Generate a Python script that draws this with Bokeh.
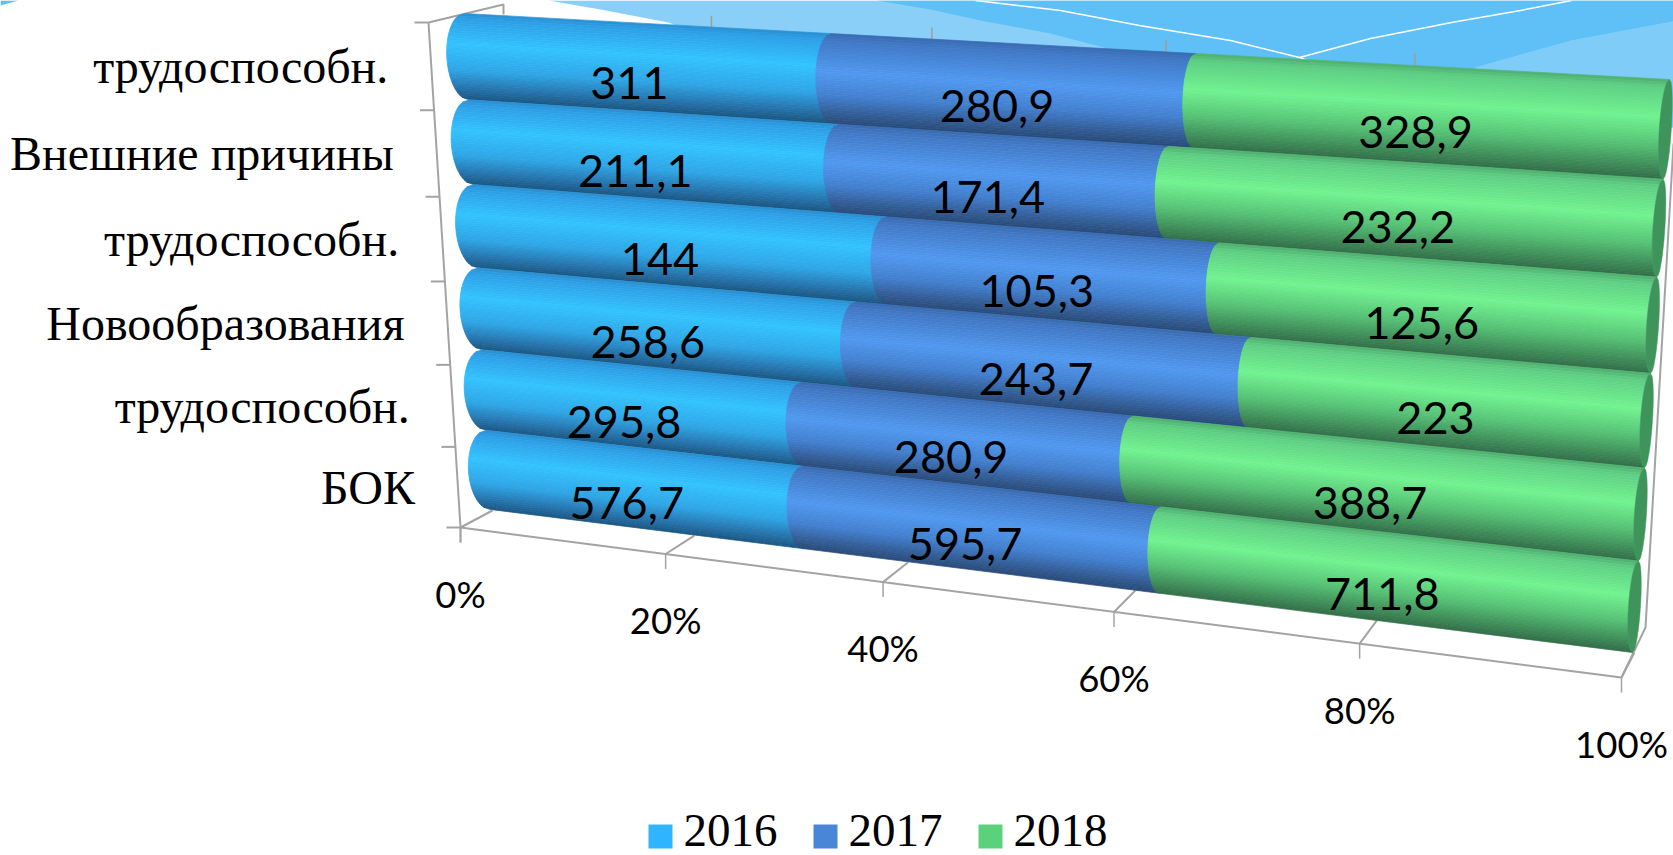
from bokeh.plotting import figure
from bokeh.models import Range1d
from bokeh.core.properties import value
from bokeh.embed import file_html
from bokeh.resources import INLINE

categories = ["трудоспособн.", "Внешние причины", "трудоспособн.",
              "Новообразования", "трудоспособн.", "БОК"]
years = ["2016", "2017", "2018"]
v2016 = [311, 211.1, 144, 258.6, 295.8, 576.7]
v2017 = [280.9, 171.4, 105.3, 243.7, 280.9, 595.7]
v2018 = [328.9, 232.2, 125.6, 223, 388.7, 711.8]
pct_ticks = [0, 20, 40, 60, 80, 100]

W, H = 1673, 855
p = figure(width=W, height=H, x_range=Range1d(0, W), y_range=Range1d(H, 0),
           output_backend="svg", toolbar_location=None, min_border=0)
p.axis.visible = False
p.grid.visible = False
p.outline_line_color = None
p.background_fill_color = "white"
p.border_fill_color = "white"

# ---- pseudo-3D projection: percent along the bars, category across them
R_U, R_V = 1.165, 0.95
N = len(categories)

def su(u):
    return u / (u + (1 - u) * R_U)

def sv(v):
    f = v / N
    return f / (f + (1 - f) * R_V)

BAR = ((464, 13), (1669, 79), (490, 509), (1632, 652))

def bar_pt(u, v):
    a, b = su(u), sv(v)
    (x0, y0), (x1, y1), (x2, y2), (x3, y3) = BAR
    tx, ty = x0 + (x1 - x0) * a, y0 + (y1 - y0) * a
    bx, by = x2 + (x3 - x2) * a, y2 + (y3 - y2) * a
    return tx + (bx - tx) * b, ty + (by - ty) * b

def bulge(u):
    return 20 - 13 * su(u)

def arc_pt(u, row, t):
    x, y = bar_pt(u, row + t)
    return x - bulge(u) * (max(0.0, 1 - (2 * t - 1) ** 2)) ** 0.5, y

def lerp(a, b, f):
    return a + (b - a) * f

def seg(pa, pb, f):
    return lerp(pa[0], pb[0], f), lerp(pa[1], pb[1], f)

# ---- template background behind the chart
p.patch([0, 18, 0], [0, 0, 5], color="#5EC0F7", line_width=0)
p.patch([548, 600, 668, 760, 1673, 1673], [0, 9, 22, 60, 127, 0], color="#8ACFF8", line_width=0)
p.patch([876, 930, 980, 1050, 1107, 1180, 1400, 1475, 1571, 1673, 1673],
        [0, 9, 20, 33, 48, 90, 110, 67, 40, 21, 0], color="#5EC0F7", line_width=0)
p.patch([1400, 1475, 1571, 1673, 1673], [110, 67, 40, 21, 127], color="#7FCCF8", line_width=0)
p.line([975, 1060, 1139, 1230, 1299, 1312], [0, 10, 25, 40, 57, 62], line_color="white", line_width=1.5)
p.line([1299, 1370, 1451, 1520, 1571], [57, 38, 22, 10, 0], line_color="white", line_width=1.5)

# ---- chart box lines
GREY = "#A3A3A3"
F0, F1, B0, B1 = (460, 527), (1621, 677), (492, 510), (1634, 652)
T0, T1 = (503, 4), (1680, 67)
p.line([F0[0], F1[0]], [F0[1], F1[1]], line_color=GREY, line_width=2)
p.line([428, 503, 503], [22, 4, 14], line_color=GREY, line_width=2)
p.line([428, 460, 460], [22, 527, 542], line_color=GREY, line_width=2)
p.line([F1[0], 1645, 1673], [F1[1], 627, 143], line_color=GREY, line_width=2)
for t in pct_ticks:
    u = t / 100
    a = seg(F0, F1, su(u))
    b = seg(B0, B1, su(u))
    p.line([a[0], b[0]], [a[1], b[1]], line_color=GREY, line_width=2)
    p.line([a[0], a[0]], [a[1], a[1] + 15], line_color=GREY, line_width=1.5)
    c = seg(T0, T1, su(u))
    if 0 < t < 100:
        p.line([c[0], c[0]], [c[1], c[1] + 12], line_color="#A89A90", line_width=1.5)
    p.text([a[0]], [a[1] + 66], text=[f"{t}%"], text_font=value("Lato"),
           text_font_size="36.5px", text_align="center", text_baseline="middle",
           text_color="black")
for i in range(N + 1):
    f = sv(i)
    y = lerp(22, 527, f)
    x = lerp(428, 460, f)
    p.line([x - 14, x], [y, y], line_color=GREY, line_width=2)

# ---- cylinder shading stops (t across the bar, colour)
shade = [
    [(0, "#2A8FD0"), (.06, "#2E9FE6"), (.35, "#33C3FF"), (.65, "#2FA6E6"), (.88, "#256FA6"), (1, "#1A5580")],
    [(0, "#3A6CB0"), (.08, "#4279C6"), (.42, "#5199F0"), (.68, "#4380CF"), (.9, "#31598F"), (1, "#284A78")],
    [(0, "#4FAE70"), (.08, "#5FCF84"), (.38, "#72F390"), (.66, "#56C276"), (.9, "#3C8656"), (1, "#336E48")],
]

def rgb(h):
    return tuple(int(h[i:i + 2], 16) for i in (1, 3, 5))

def color_at(stops, t):
    for (t0, c0), (t1, c1) in zip(stops, stops[1:]):
        if t <= t1:
            f = (t - t0) / (t1 - t0)
            r = [round(lerp(a, b, f)) for a, b in zip(rgb(c0), rgb(c1))]
            return "#%02X%02X%02X" % tuple(r)
    return stops[-1][1]

STRIPS = 36
series = [v2016, v2017, v2018]
lab_x, lab_y, lab_t = [], [], []
for row in range(N):
    total = v2016[row] + v2017[row] + v2018[row]
    start = 0.0
    xs, ys, cols = [], [], []
    for s, vals in enumerate(series):
        end = start + vals[row] / total
        for j in range(STRIPS):
            t0, t1 = j / STRIPS, (j + 1) / STRIPS
            a0 = arc_pt(start, row, t0)
            a1 = arc_pt(start, row, t1)
            b0 = arc_pt(end, row, t0)
            b1 = arc_pt(end, row, t1)
            xs.append([a0[0], b0[0], b1[0], a1[0]])
            ys.append([a0[1], b0[1], b1[1], a1[1]])
            cols.append(color_at(shade[s], (t0 + t1) / 2))
        um = (start + end) / 2
        lx, ly = bar_pt(um, row + 0.68)
        lab_x.append(lx - bulge(um) + 2)
        lab_y.append(ly)
        lab_t.append(str(vals[row]).replace(".", ","))
        start = end
    p.patches(xs, ys, fill_color=cols, line_color=cols, line_width=0.7)
    # end face of the last cylinder
    cx, cy = [], []
    for j in range(STRIPS + 1):
        t = j / STRIPS
        x, y = bar_pt(1.0, row + t)
        cx.append(x + 5 * (max(0.0, 1 - (2 * t - 1) ** 2)) ** 0.5)
        cy.append(y)
    for j in range(STRIPS, -1, -1):
        t = j / STRIPS
        x, y = arc_pt(1.0, row, t)
        cx.append(x)
        cy.append(y)
    p.patch(cx, cy, fill_color="#3F945B", line_color="#3F945B", line_width=0.5)

p.text(lab_x, lab_y, text=lab_t, text_font=value("Lato"), text_font_size="45px",
       text_align="center", text_baseline="middle", text_color="black")

# ---- category labels
cx_, cy_ = [], []
for i in range(N):
    f = sv(i + 0.5)
    cx_.append(lerp(428, 460, f) - 43)
    cy_.append(lerp(22, 527, f))
p.text(cx_, cy_, text=categories, text_font=value("Liberation Serif"),
       text_font_size="48px", text_align="right", text_baseline="middle",
       text_color="black")

# ---- legend
leg_cols = ["#2FB5FF", "#4A86D8", "#5BD17C"]
leg_x = [648, 813, 978]
for lx, c, y_ in zip(leg_x, leg_cols, years):
    p.quad(left=[lx], right=[lx + 24], top=[824], bottom=[848], color=c, line_width=0)
    p.text([lx + 35], [830], text=[y_], text_font=value("Liberation Serif"),
           text_font_size="47px", text_align="left", text_baseline="middle",
           text_color="black")

open("out.html", "w").write(file_html(p, INLINE))
